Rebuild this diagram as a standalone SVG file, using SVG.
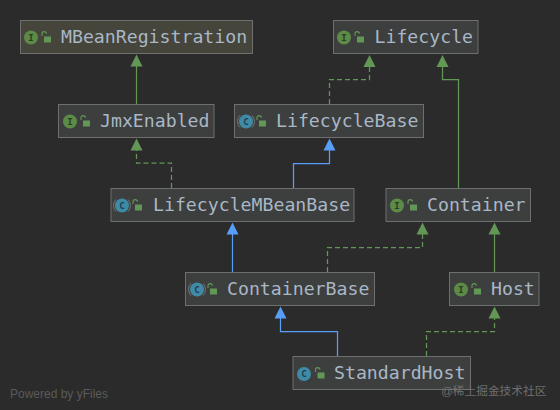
<svg xmlns="http://www.w3.org/2000/svg" width="560" height="410" viewBox="0 0 560 410">
<style>
.box{fill:#3d3e3e;stroke:#6e6f6e;stroke-width:1}
.lbl{font-family:"DejaVu Sans Mono",monospace;font-size:18.2px;fill:#a9b7c6}
.ltr{font-family:"DejaVu Sans Mono",monospace;font-size:9px;font-weight:bold;text-anchor:middle}
.edge{fill:none;stroke-width:1.25}
.g{stroke:#629755}
.b{stroke:#589df6}
.d{stroke-dasharray:5 3}
.ah-g{fill:#629755}
.ah-b{fill:#589df6}
.foot{font-family:"Liberation Sans",Arial,sans-serif;font-size:12px;fill:#5a5a5a}
.wm{font-family:"Liberation Sans","Noto Sans CJK SC",sans-serif;font-size:11.7px;fill:#6f6f6f}
</style>
<defs>
<g id="lock"><path d="M-4.5-2.5v-2.2a2.2 2.2 0 0 1 4.4 0" fill="none" stroke="#629755" stroke-width="1.1"/><rect x="-2.5" y="-2" width="7" height="6" fill="#629755"/></g>
<circle id="ci" r="7" fill="#5b8b46"/>
<g id="cc"><circle r="7" fill="#3f8aa6"/><path d="M-6-6a8.500 8.500 0 0 0 0 12M6-6a8.500 8.500 0 0 1 0 12" fill="none" stroke="#8a8a8a" stroke-width="1" opacity=".7"/></g>
<path id="up-g" class="ah-g" d="M0 0L6 12H-6Z"/>
<path id="up-b" class="ah-b" d="M0 0L6 12H-6Z"/>
</defs>
<rect width="560" height="410" fill="#2b2b2b"/>
<g id="connectors">
<path class="edge g" d="M136.500 104V66"/>
<path class="edge g d" d="M171.500 188V163H136.500V150"/>
<path class="edge g d" d="M329.500 104V79.500H369.500V67"/>
<path class="edge g" d="M458.500 188V79.500H442.500V67"/>
<path class="edge b" d="M293.500 188V163.500H329.500V150"/>
<path class="edge b" d="M232.500 272V234"/>
<path class="edge g d" d="M327.500 272V247.500H422.500V234"/>
<path class="edge g" d="M494.500 272V234"/>
<path class="edge g d" d="M426.500 356V331.500H494.500V318"/>
<path class="edge b" d="M337.500 356V331.500H280.500V318"/>
<use href="#up-g" x="136.500" y="54.500"/>
<use href="#up-g" x="136.500" y="138.500"/>
<use href="#up-g" x="369.500" y="55"/>
<use href="#up-g" x="442.500" y="55"/>
<use href="#up-b" x="329.500" y="138.500"/>
<use href="#up-b" x="232.500" y="222.500"/>
<use href="#up-g" x="422.500" y="222.500"/>
<use href="#up-g" x="494.500" y="222.500"/>
<use href="#up-g" x="494.500" y="306.500"/>
<use href="#up-b" x="280.500" y="306.500"/>
</g>
<g id="MBeanRegistration">
<rect class="box" style="fill:#45453b" x="20.500" y="20.500" width="232" height="33"/>
<use href="#ci" x="31" y="37.500"/><text class="ltr" x="31" y="40.500" fill="#2b3a22">I</text>
<use href="#lock" x="46.500" y="38.500"/>
<text class="lbl" x="61" y="43">MBeanRegistration</text>
</g>
<g id="Lifecycle">
<rect class="box" x="333.500" y="20.500" width="144.500" height="33"/>
<use href="#ci" x="344" y="37.500"/><text class="ltr" x="344" y="40.500" fill="#2b3a22">I</text>
<use href="#lock" x="359.500" y="38.500"/>
<text class="lbl" x="374.500" y="43">Lifecycle</text>
</g>
<g id="JmxEnabled">
<rect class="box" x="58.500" y="104.500" width="155.500" height="33"/>
<use href="#ci" x="70" y="121.500"/><text class="ltr" x="70" y="124.500" fill="#2b3a22">I</text>
<use href="#lock" x="85.500" y="122.500"/>
<text class="lbl" x="100" y="127">JmxEnabled</text>
</g>
<g id="LifecycleBase">
<rect class="box" x="234.500" y="104.500" width="189" height="33"/>
<use href="#cc" x="246" y="121.500"/><text class="ltr" x="246" y="124.500" fill="#1f3f4d">C</text>
<use href="#lock" x="261.500" y="122.500"/>
<text class="lbl" x="276" y="127">LifecycleBase</text>
</g>
<g id="LifecycleMBeanBase">
<rect class="box" x="111" y="188.500" width="243" height="33"/>
<use href="#cc" x="122" y="205.500"/><text class="ltr" x="122" y="208.500" fill="#1f3f4d">C</text>
<use href="#lock" x="137.500" y="206.500"/>
<text class="lbl" x="153" y="211">LifecycleMBeanBase</text>
</g>
<g id="Container">
<rect class="box" x="386" y="188.500" width="144.500" height="33"/>
<use href="#ci" x="397" y="205.500"/><text class="ltr" x="397" y="208.500" fill="#2b3a22">I</text>
<use href="#lock" x="412.500" y="206.500"/>
<text class="lbl" x="427" y="211">Container</text>
</g>
<g id="ContainerBase">
<rect class="box" x="185.500" y="272.500" width="189" height="33"/>
<use href="#cc" x="197" y="289.500"/><text class="ltr" x="197" y="292.500" fill="#1f3f4d">C</text>
<use href="#lock" x="212.500" y="290.500"/>
<text class="lbl" x="227" y="295">ContainerBase</text>
</g>
<g id="Host">
<rect class="box" x="449.500" y="272.500" width="89.500" height="33"/>
<use href="#ci" x="461" y="289.500"/><text class="ltr" x="461" y="292.500" fill="#2b3a22">I</text>
<use href="#lock" x="476.500" y="290.500"/>
<text class="lbl" x="491" y="295">Host</text>
</g>
<g id="StandardHost">
<rect class="box" x="293" y="356.500" width="177.500" height="33"/>
<circle cx="304" cy="374" r="7" fill="#3f8aa6"/><text class="ltr" x="304" y="377" fill="#1f3f4d">C</text>
<use href="#lock" x="320" y="374.500"/>
<text class="lbl" x="334" y="379">StandardHost</text>
</g>
<text class="foot" x="10" y="398">Powered by yFiles</text>
<text class="wm" x="441" y="395">@稀土掘金技术社区</text>
</svg>
